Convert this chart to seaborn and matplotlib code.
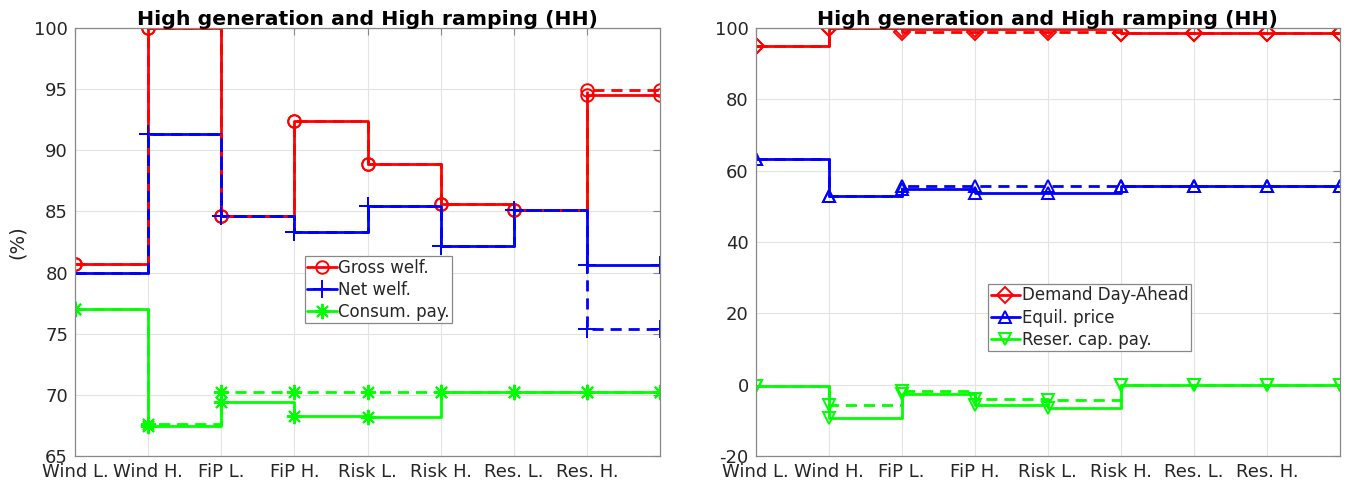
import seaborn as sns
import matplotlib.pyplot as plt
import pandas as pd

# scenario labels (9th point closes the last step)
scenarios = ['Wind L.', 'Wind H.', 'FiP L.', 'FiP H.', 'Risk L.', 'Risk H.', 'Res. L.', 'Res. H.']
x_pos = [1, 2, 3, 4, 5, 6, 7, 8, 9]

# left panel: welfare (%)
gross_welf = [80.7, 100.0, 84.6, 92.4, 88.9, 85.6, 85.1, 94.5, 94.5]
gross_welf_alt = [80.7, 100.0, 84.6, 92.4, 88.9, 85.6, 85.1, 94.9, 94.9]
net_welf = [80.0, 91.35, 84.6, 83.3, 85.45, 82.2, 85.1, 80.6, 80.6]
net_welf_alt = [80.0, 91.35, 84.6, 83.3, 85.45, 82.2, 85.1, 75.4, 75.4]
consum_pay = [77.0, 67.45, 69.45, 68.3, 68.2, 70.2, 70.2, 70.2, 70.2]
consum_pay_alt = [77.0, 67.6, 70.2, 70.2, 70.2, 70.2, 70.2, 70.2, 70.2]

# right panel: market (%)
demand_da = [95.0, 100.0, 99.6, 99.6, 99.7, 98.6, 98.6, 98.6, 98.6]
demand_da_alt = [95.0, 100.0, 98.8, 98.8, 98.8, 98.6, 98.6, 98.6, 98.6]
equil_price = [63.3, 52.8, 54.8, 53.6, 53.6, 55.7, 55.7, 55.7, 55.7]
equil_price_alt = [63.3, 52.8, 55.8, 55.8, 55.8, 55.7, 55.7, 55.7, 55.7]
reser_cap_pay = [-0.5, -9.3, -2.6, -5.6, -6.5, 0.0, 0.0, 0.0, 0.0]
reser_cap_pay_alt = [-0.5, -5.8, -1.7, -4.0, -4.3, 0.0, 0.0, 0.0, 0.0]

sns.set_theme(style='white')
plt.rcParams['font.family'] = ['DejaVu Sans']
plt.rcParams['axes.unicode_minus'] = False

fig = plt.figure(figsize=(13.67, 4.87), dpi=100)
ax1 = fig.add_axes([0.0549, 0.0637, 0.4279, 0.8788])
ax2 = fig.add_axes([0.5528, 0.0637, 0.4274, 0.8788])

left_series = [
    ('Gross welf.', gross_welf, gross_welf_alt, '#ff0000', 'o', 9),
    ('Net welf.', net_welf, net_welf_alt, '#0000ff', '+', 13),
    ('Consum. pay.', consum_pay, consum_pay_alt, '#00ff00', (8, 2, 0), 11),
]
right_series = [
    ('Demand Day-Ahead', demand_da, demand_da_alt, '#ff0000', 'D', 8),
    ('Equil. price', equil_price, equil_price_alt, '#0000ff', '^', 9),
    ('Reser. cap. pay.', reser_cap_pay, reser_cap_pay_alt, '#00ff00', 'v', 9),
]


def draw_panel(ax, series):
    handles = []
    # solid lines first, then dashed on top
    for name, vals, alt, col, mk, ms in series:
        df = pd.DataFrame({'x': x_pos, 'y': vals})
        sns.lineplot(data=df, x='x', y='y', ax=ax, color=col, drawstyle='steps-post',
                     marker=mk, markersize=ms, markerfacecolor='none',
                     markeredgecolor=col, markeredgewidth=1.4, linewidth=2, legend=False)
        handles.append(ax.lines[-1])
    for name, vals, alt, col, mk, ms in series:
        df = pd.DataFrame({'x': x_pos, 'y': alt})
        sns.lineplot(data=df, x='x', y='y', ax=ax, color=col, drawstyle='steps-post',
                     marker=mk, markersize=ms, markerfacecolor='none',
                     markeredgecolor=col, markeredgewidth=1.4, linewidth=2,
                     linestyle=(0, (4, 2.5)), legend=False)
    return handles


h1 = draw_panel(ax1, left_series)
h2 = draw_panel(ax2, right_series)

for ax in [ax1, ax2]:
    ax.set_xlim(1, 9)
    ax.set_xticks(x_pos[:-1])
    ax.set_xticklabels(scenarios)
    ax.set_xlabel('')
    ax.set_title('High generation and High ramping (HH)', fontsize=14.7, fontweight='bold',
                 color='black', pad=2)
    ax.grid(True, color='#e3e3e3', linewidth=0.8)
    ax.set_axisbelow(True)
    ax.tick_params(direction='in', top=True, right=True, length=5, width=0.8,
                   colors='#888888', labelcolor='#262626', labelsize=13, pad=5)
    for sp in ax.spines.values():
        sp.set_color('#888888')
        sp.set_linewidth(0.9)

ax1.set_ylim(65, 100)
ax1.set_yticks([65, 70, 75, 80, 85, 90, 95, 100])
ax1.set_ylabel('(%)', fontsize=14, color='#262626', labelpad=5)
ax2.set_ylim(-20, 100)
ax2.set_yticks([-20, 0, 20, 40, 60, 80, 100])
ax2.set_ylabel('')

leg_kw = dict(loc='upper left', fontsize=12, frameon=True, fancybox=False, framealpha=1,
              edgecolor='#888888', borderpad=0.15, labelspacing=0.25, handlelength=1.75,
              handletextpad=0.1, borderaxespad=0)
l1 = ax1.legend(h1, [s[0] for s in left_series], bbox_to_anchor=(0.393, 0.467), **leg_kw)
l2 = ax2.legend(h2, [s[0] for s in right_series], bbox_to_anchor=(0.398, 0.402), **leg_kw)
for leg in [l1, l2]:
    leg.get_frame().set_linewidth(0.9)

fig.savefig('out.png', dpi=100)
